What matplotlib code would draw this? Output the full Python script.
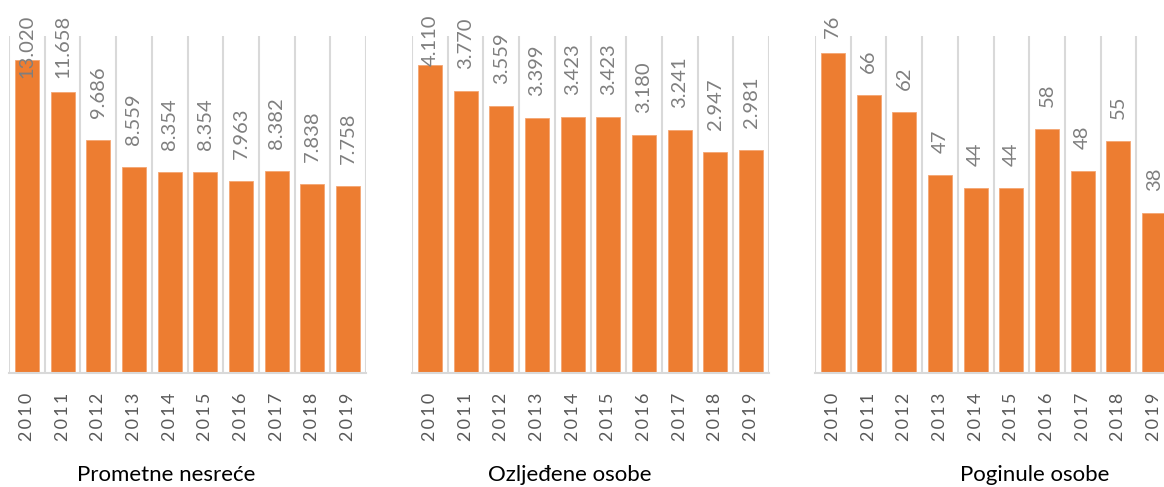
import numpy as np
import matplotlib
matplotlib.use('Agg')
import matplotlib.pyplot as plt

plt.rcParams['font.family'] = ['Lato', 'DejaVu Sans']

years = ['2010', '2011', '2012', '2013', '2014', '2015', '2016', '2017', '2018', '2019']

nesrece = [13020, 11658, 9686, 8559, 8354, 8354, 7963, 8382, 7838, 7758]
ozlijedeni = [4110, 3770, 3559, 3399, 3423, 3423, 3180, 3241, 2947, 2981]
poginuli = [76, 66, 62, 47, 44, 44, 58, 48, 55, 38]

titles = ['Prometne nesreće', 'Ozljeđene osobe', 'Poginule osobe']
ymax = [14000, 4500, 80]

W, H = 1164, 487
fig = plt.figure(figsize=(W / 100, H / 100), dpi=100)

orange = '#ED7D31'
grid = '#D9D9D9'
label_gray = '#7F7F7F'

def fmt(v):
    # thousands separator as a dot
    return '{:,}'.format(v).replace(',', '.')

# left edge of each chart (px), plot area is 357 x 337 px
lefts = [9, 412, 815]
title_x = [166, 570, 1035]
texts = []

for k, (vals, title) in enumerate(zip([nesrece, ozlijedeni, poginuli], titles)):
    ax = fig.add_axes([lefts[k] / W, (H - 373) / H, 357 / W, 337 / H])
    x = np.arange(len(years))
    ax.bar(x, vals, width=0.67, color=orange, edgecolor='#F4A672', linewidth=0.6, zorder=2)
    ax.set_xlim(-0.5, len(years) - 0.5)
    ax.set_ylim(0, ymax[k])
    for b in np.arange(len(years) + 1) - 0.5:
        ax.axvline(b, color=grid, lw=1.5, zorder=1)
    for s in ax.spines.values():
        s.set_visible(False)
    ax.axhline(0, color=grid, lw=1.5, zorder=3, clip_on=False)
    ax.set_yticks([])
    ax.set_xticks(x)
    ax.set_xticklabels(['\u2009'.join(y) for y in years], rotation=90,
                       fontsize=13, color='#595959')
    ax.tick_params(axis='x', length=0, pad=14)
    for xi, v in zip(x, vals):
        t = ax.annotate(fmt(v), (xi, v), xytext=(0, 22), textcoords='offset pixels',
                        rotation=90, ha='center', va='bottom', fontsize=14.5,
                        color=label_gray, annotation_clip=False)
        texts.append(t)
    fig.text(title_x[k] / W, (H - 475) / H, title, ha='center', va='center',
             fontsize=16, color='#000000')

# keep value labels inside the figure, as the spreadsheet does
fig.canvas.draw()
r = fig.canvas.get_renderer()
for t in texts:
    bb = t.get_window_extent(r)
    top_limit = H - 15
    if bb.y1 > top_limit:
        ox, oy = t.xyann
        t.xyann = (ox, oy - (bb.y1 - top_limit))

fig.savefig('out.png', dpi=100)
